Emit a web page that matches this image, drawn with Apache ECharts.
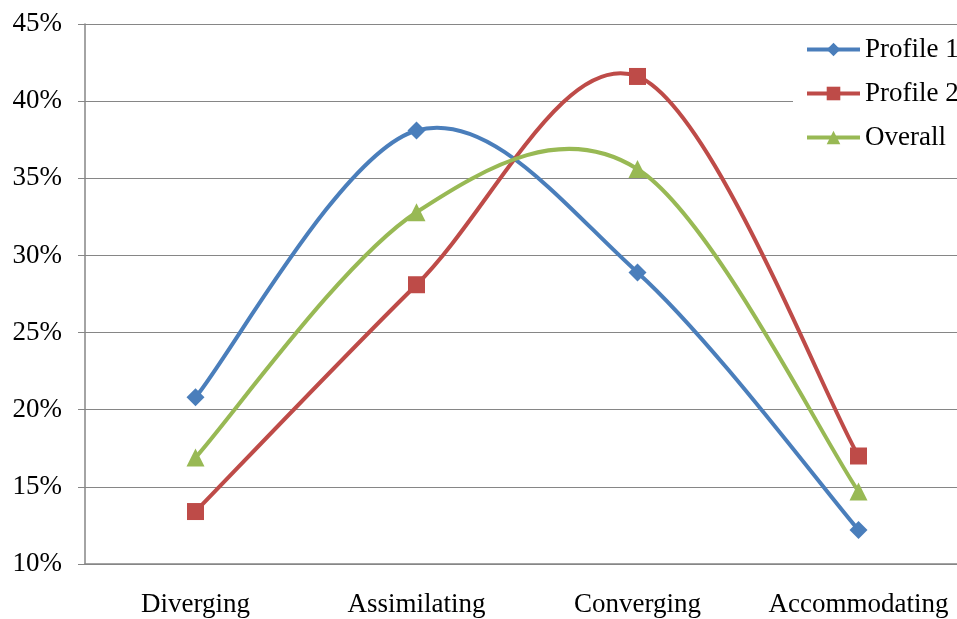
<!DOCTYPE html>
<html><head><meta charset="utf-8">
<script src="https://cdn.jsdelivr.net/npm/echarts@6/dist/echarts.min.js"></script>
<style>html,body{margin:0;padding:0;background:#fff;overflow:hidden;width:957px;height:619px}#c{width:969px;height:619px}</style>
</head><body><div id="c"></div>
<script>
const categories = ['Diverging', 'Assimilating', 'Converging', 'Accommodating'];
const profile1 = [20.8, 38.1, 28.9, 12.2];
const profile2 = [13.4, 28.1, 41.6, 17.0];
const overall = [16.9, 32.8, 35.6, 14.7];
const yTicks = { min: 10, max: 45, interval: 5 };

const font = 'Liberation Serif';
const chart = echarts.init(document.getElementById('c'), null, { renderer: 'canvas' });

// Excel-like smoothed curve (Catmull-Rom Bezier) drawn through the axis scales
function curve(values, color) {
  return {
    type: 'custom', silent: true, z: 2, clip: false,
    data: values.slice(0, -1).map((v, i) => [i, v]),
    renderItem: function (params, api) {
      const i = params.dataIndex;
      const n = values.length;
      const pt = k => { const j = Math.max(0, Math.min(n - 1, k)); return api.coord([j, values[j]]); };
      const p0 = pt(i - 1), p1 = pt(i), p2 = pt(i + 1), p3 = pt(i + 2);
      const c1 = [p1[0] + (p2[0] - p0[0]) / 6, p1[1] + (p2[1] - p0[1]) / 6];
      const c2 = [p2[0] - (p3[0] - p1[0]) / 6, p2[1] - (p3[1] - p1[1]) / 6];
      return {
        type: 'bezierCurve',
        shape: { x1: p1[0], y1: p1[1], cpx1: c1[0], cpy1: c1[1], cpx2: c2[0], cpy2: c2[1], x2: p2[0], y2: p2[1] },
        style: { stroke: color, lineWidth: 4, fill: null, lineCap: 'round' }
      };
    }
  };
}
function s(name, data, color, symbol, size) {
  return { name, type: 'line', data, symbol, symbolSize: size,
    lineStyle: { color, width: 4, opacity: 0 }, itemStyle: { color, opacity: 1 }, z: 3 };
}
chart.setOption({
  animation: false,
  backgroundColor: '#fff',
  textStyle: { fontFamily: font },
  grid: { left: 85, top: 24, bottom: 55, right: 0 },
  legend: {
    orient: 'vertical', left: 793, top: 26, padding: [10, 12, 10, 12],
    backgroundColor: '#fff', itemWidth: 53, itemHeight: 17, itemGap: 17,
    lineStyle: { opacity: 1, width: 4 },
    textStyle: { fontFamily: font, fontSize: 27, color: '#000' },
    data: ['Profile 1', 'Profile 2', 'Overall']
  },
  xAxis: {
    type: 'category', data: categories, boundaryGap: true,
    axisLine: { lineStyle: { color: '#868686', width: 1.5 } },
    axisTick: { alignWithLabel: true, inside: true, length: 6, lineStyle: { color: '#868686' } },
    axisLabel: { fontFamily: font, fontSize: 27, color: '#000', margin: 27, interval: 0 }
  },
  yAxis: {
    type: 'value', min: yTicks.min, max: yTicks.max, interval: yTicks.interval,
    axisLine: { show: true, lineStyle: { color: '#868686', width: 1.5 } },
    axisTick: { show: true, length: 7, lineStyle: { color: '#868686' } },
    splitLine: { lineStyle: { color: '#868686', width: 1.2 } },
    axisLabel: { fontFamily: font, fontSize: 27, color: '#000', margin: 23, formatter: '{value}%' }
  },
  series: [
    curve(profile1, '#4A7EBB'),
    curve(profile2, '#BE4B48'),
    curve(overall, '#98B954'),
    s('Profile 1', profile1, '#4A7EBB', 'diamond', 18),
    s('Profile 2', profile2, '#BE4B48', 'rect', 17),
    s('Overall', overall, '#98B954', 'triangle', 18)
  ]
});
</script></body></html>
